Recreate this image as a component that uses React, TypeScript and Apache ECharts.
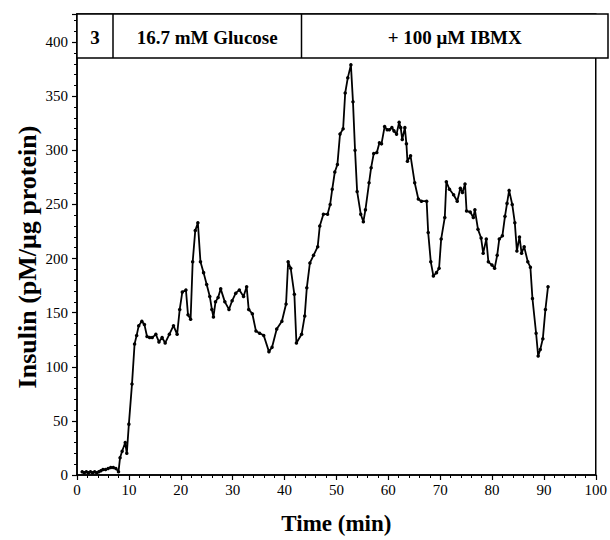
import React, { useEffect, useRef } from "react";
import * as echarts from "echarts";

const time: number[] = [
  1.0, 1.4, 1.8, 2.2, 2.6, 3.0, 3.4, 3.8, 4.2, 4.6, 5.0, 5.5, 6.0, 6.5, 7.0, 7.5, 8.0, 8.3, 8.7, 9.3,
  9.6, 10.0, 10.6, 11.1, 11.5, 11.9, 12.5, 13.0, 13.5, 14.0, 14.5, 15.2, 15.8, 16.4, 17.0, 17.8, 18.6, 19.3,
  19.8, 20.3, 21.0, 21.4, 21.9, 22.3, 22.8, 23.3, 23.8, 24.4, 25.0, 25.6, 26.0, 26.3, 26.7, 27.2, 27.7,
  28.5, 29.3, 29.9, 30.6, 31.3, 32.1, 32.7, 33.1, 33.8, 34.5, 35.2, 36.0, 37.0, 37.6, 38.5, 39.5, 40.3,
  40.7, 41.2, 41.9, 42.3, 43.3, 43.9, 44.3, 44.9, 45.6, 46.4, 46.8, 47.5, 48.3, 48.8, 49.2, 49.7, 50.2,
  50.7, 51.3, 51.7, 52.2, 52.8, 53.2, 53.6, 54.0, 54.7, 55.2, 55.6, 56.3, 56.7, 57.2, 57.8, 58.3, 58.7,
  59.3, 59.8, 60.2, 60.7, 61.1, 61.6, 62.1, 62.4, 62.7, 63.2, 63.5, 63.7, 64.3, 65.1, 65.8, 66.4, 67.4,
  67.7, 68.2, 68.7, 69.3, 69.8, 70.2, 70.9, 71.2, 71.8, 72.6, 73.3, 73.9, 74.3, 74.8, 75.1, 75.8, 76.4,
  76.7, 77.3, 77.9, 78.3, 78.9, 79.3, 80.0, 80.5, 81.0, 81.4, 82.0, 82.5, 82.9, 83.3, 83.9, 84.4, 84.8,
  85.3, 85.7, 86.2, 86.9, 87.4, 87.8, 88.5, 88.9, 89.3, 89.8, 90.3, 90.8,
];

const insulin: number[] = [
  3, 2, 3, 2, 3, 2, 3, 2, 3, 4, 5, 5, 6, 7, 7, 6, 3, 16, 22, 30,
  20, 47, 84, 121, 129, 138, 142, 139, 128, 127, 127, 130, 123, 127, 122, 130, 138, 130,
  153, 169, 171, 148, 144, 197, 226, 233, 197, 187, 176, 165, 153, 146, 160, 164, 172,
  160, 153, 161, 168, 171, 165, 174, 153, 149, 133, 131, 129, 114, 118, 135, 142, 158,
  197, 191, 167, 122, 130, 147, 173, 196, 203, 211, 230, 241, 241, 250, 264, 280, 287,
  315, 320, 353, 367, 379, 345, 300, 262, 241, 234, 245, 270, 284, 297, 298, 307, 306,
  322, 319, 319, 321, 318, 315, 326, 321, 310, 321, 306, 290, 295, 270, 255, 253, 253,
  224, 197, 184, 187, 191, 218, 238, 271, 264, 259, 253, 265, 261, 269, 244, 243, 238,
  245, 227, 219, 205, 218, 197, 194, 191, 203, 218, 221, 239, 251, 263, 250, 233, 207,
  220, 205, 211, 197, 192, 163, 131, 110, 116, 126, 153, 174,
];

const headerLabels: string[] = ["3", "16.7 mM Glucose", "+ 100 \u03bcM IBMX"];
const xTitle = "Time (min)";
const yTitle = "Insulin (pM/\u03bcg protein)";

const SERIF = "'Liberation Serif', 'DejaVu Serif', serif";

export default function App() {
  const ref = useRef<HTMLDivElement>(null);

  useEffect(() => {
    if (!ref.current) return;
    const chart = echarts.init(ref.current, null, { renderer: "svg" });
    const data = time.map((t, i) => [t, insulin[i]]);

    const left = 77;
    const right = 608;
    const top = 14;
    const headerBottom = 58;
    const div1 = 113;
    const div2 = 301.5;
    const headerMid = (top + headerBottom) / 2 + 1;

    const headerText = (text: string, x: number) => ({
      type: "text",
      x,
      y: headerMid,
      style: {
        text,
        fill: "#000",
        font: `bold 19px ${SERIF}`,
        textAlign: "center",
        textVerticalAlign: "middle",
      },
      z: 12,
    });

    chart.setOption({
      animation: false,
      backgroundColor: "#fff",
      grid: {
        left: left,
        right: 610 - right,
        top: top,
        bottom: 540 - 476,
        show: true,
        borderColor: "#000",
        borderWidth: 1.5,
        backgroundColor: "transparent",
      },
      xAxis: {
        type: "value",
        min: 0,
        max: 100,
        interval: 10,
        axisLine: { show: true, lineStyle: { color: "#000", width: 1.5 } },
        axisTick: { show: true, inside: false, length: 5, lineStyle: { color: "#000", width: 1.2 } },
        minorTick: { show: true, splitNumber: 5, length: 3, lineStyle: { color: "#000", width: 1 } },
        splitLine: { show: false },
        axisLabel: { color: "#000", fontFamily: SERIF, fontSize: 15, margin: 7 },
        name: xTitle,
        nameLocation: "middle",
        nameGap: 37,
        nameTextStyle: { color: "#000", fontFamily: SERIF, fontSize: 23, fontWeight: "bold" },
      },
      yAxis: {
        type: "value",
        min: 0,
        max: 426,
        interval: 50,
        axisLine: { show: true, lineStyle: { color: "#000", width: 1.5 } },
        axisTick: { show: true, inside: false, length: 5, lineStyle: { color: "#000", width: 1.2 } },
        minorTick: { show: true, splitNumber: 5, length: 3, lineStyle: { color: "#000", width: 1 } },
        splitLine: { show: false },
        axisLabel: {
          color: "#000",
          fontFamily: SERIF,
          fontSize: 15,
          margin: 9,
          formatter: (v: number) => (v % 50 === 0 ? String(v) : ""),
        },
      },
      series: [
        {
          type: "line",
          data: data,
          symbol: "circle",
          symbolSize: 3.5,
          showSymbol: true,
          itemStyle: { color: "#000" },
          lineStyle: { color: "#000", width: 1.8 },
          z: 3,
        },
      ],
      graphic: [
        {
          type: "rect",
          shape: { x: left, y: top, width: right - left, height: headerBottom - top },
          style: { fill: "#fff", stroke: "#000", lineWidth: 1.5 },
          z: 10,
        },
        {
          type: "line",
          shape: { x1: div1, y1: top, x2: div1, y2: headerBottom },
          style: { stroke: "#000", lineWidth: 1.5 },
          z: 11,
        },
        {
          type: "line",
          shape: { x1: div2, y1: top, x2: div2, y2: headerBottom },
          style: { stroke: "#000", lineWidth: 1.5 },
          z: 11,
        },
        headerText(headerLabels[0], (left + div1) / 2),
        headerText(headerLabels[1], (div1 + div2) / 2),
        headerText(headerLabels[2], (div2 + right) / 2),
        {
          type: "text",
          x: 27,
          y: 257,
          rotation: Math.PI / 2,
          style: {
            text: yTitle,
            fill: "#000",
            font: `bold 26px ${SERIF}`,
            textAlign: "center",
            textVerticalAlign: "middle",
          },
          z: 12,
        },
      ],
    });

    return () => chart.dispose();
  }, []);

  return <div ref={ref} style={{ width: 610, height: 540, position: "absolute", left: 0, top: 0 }} />;
}
